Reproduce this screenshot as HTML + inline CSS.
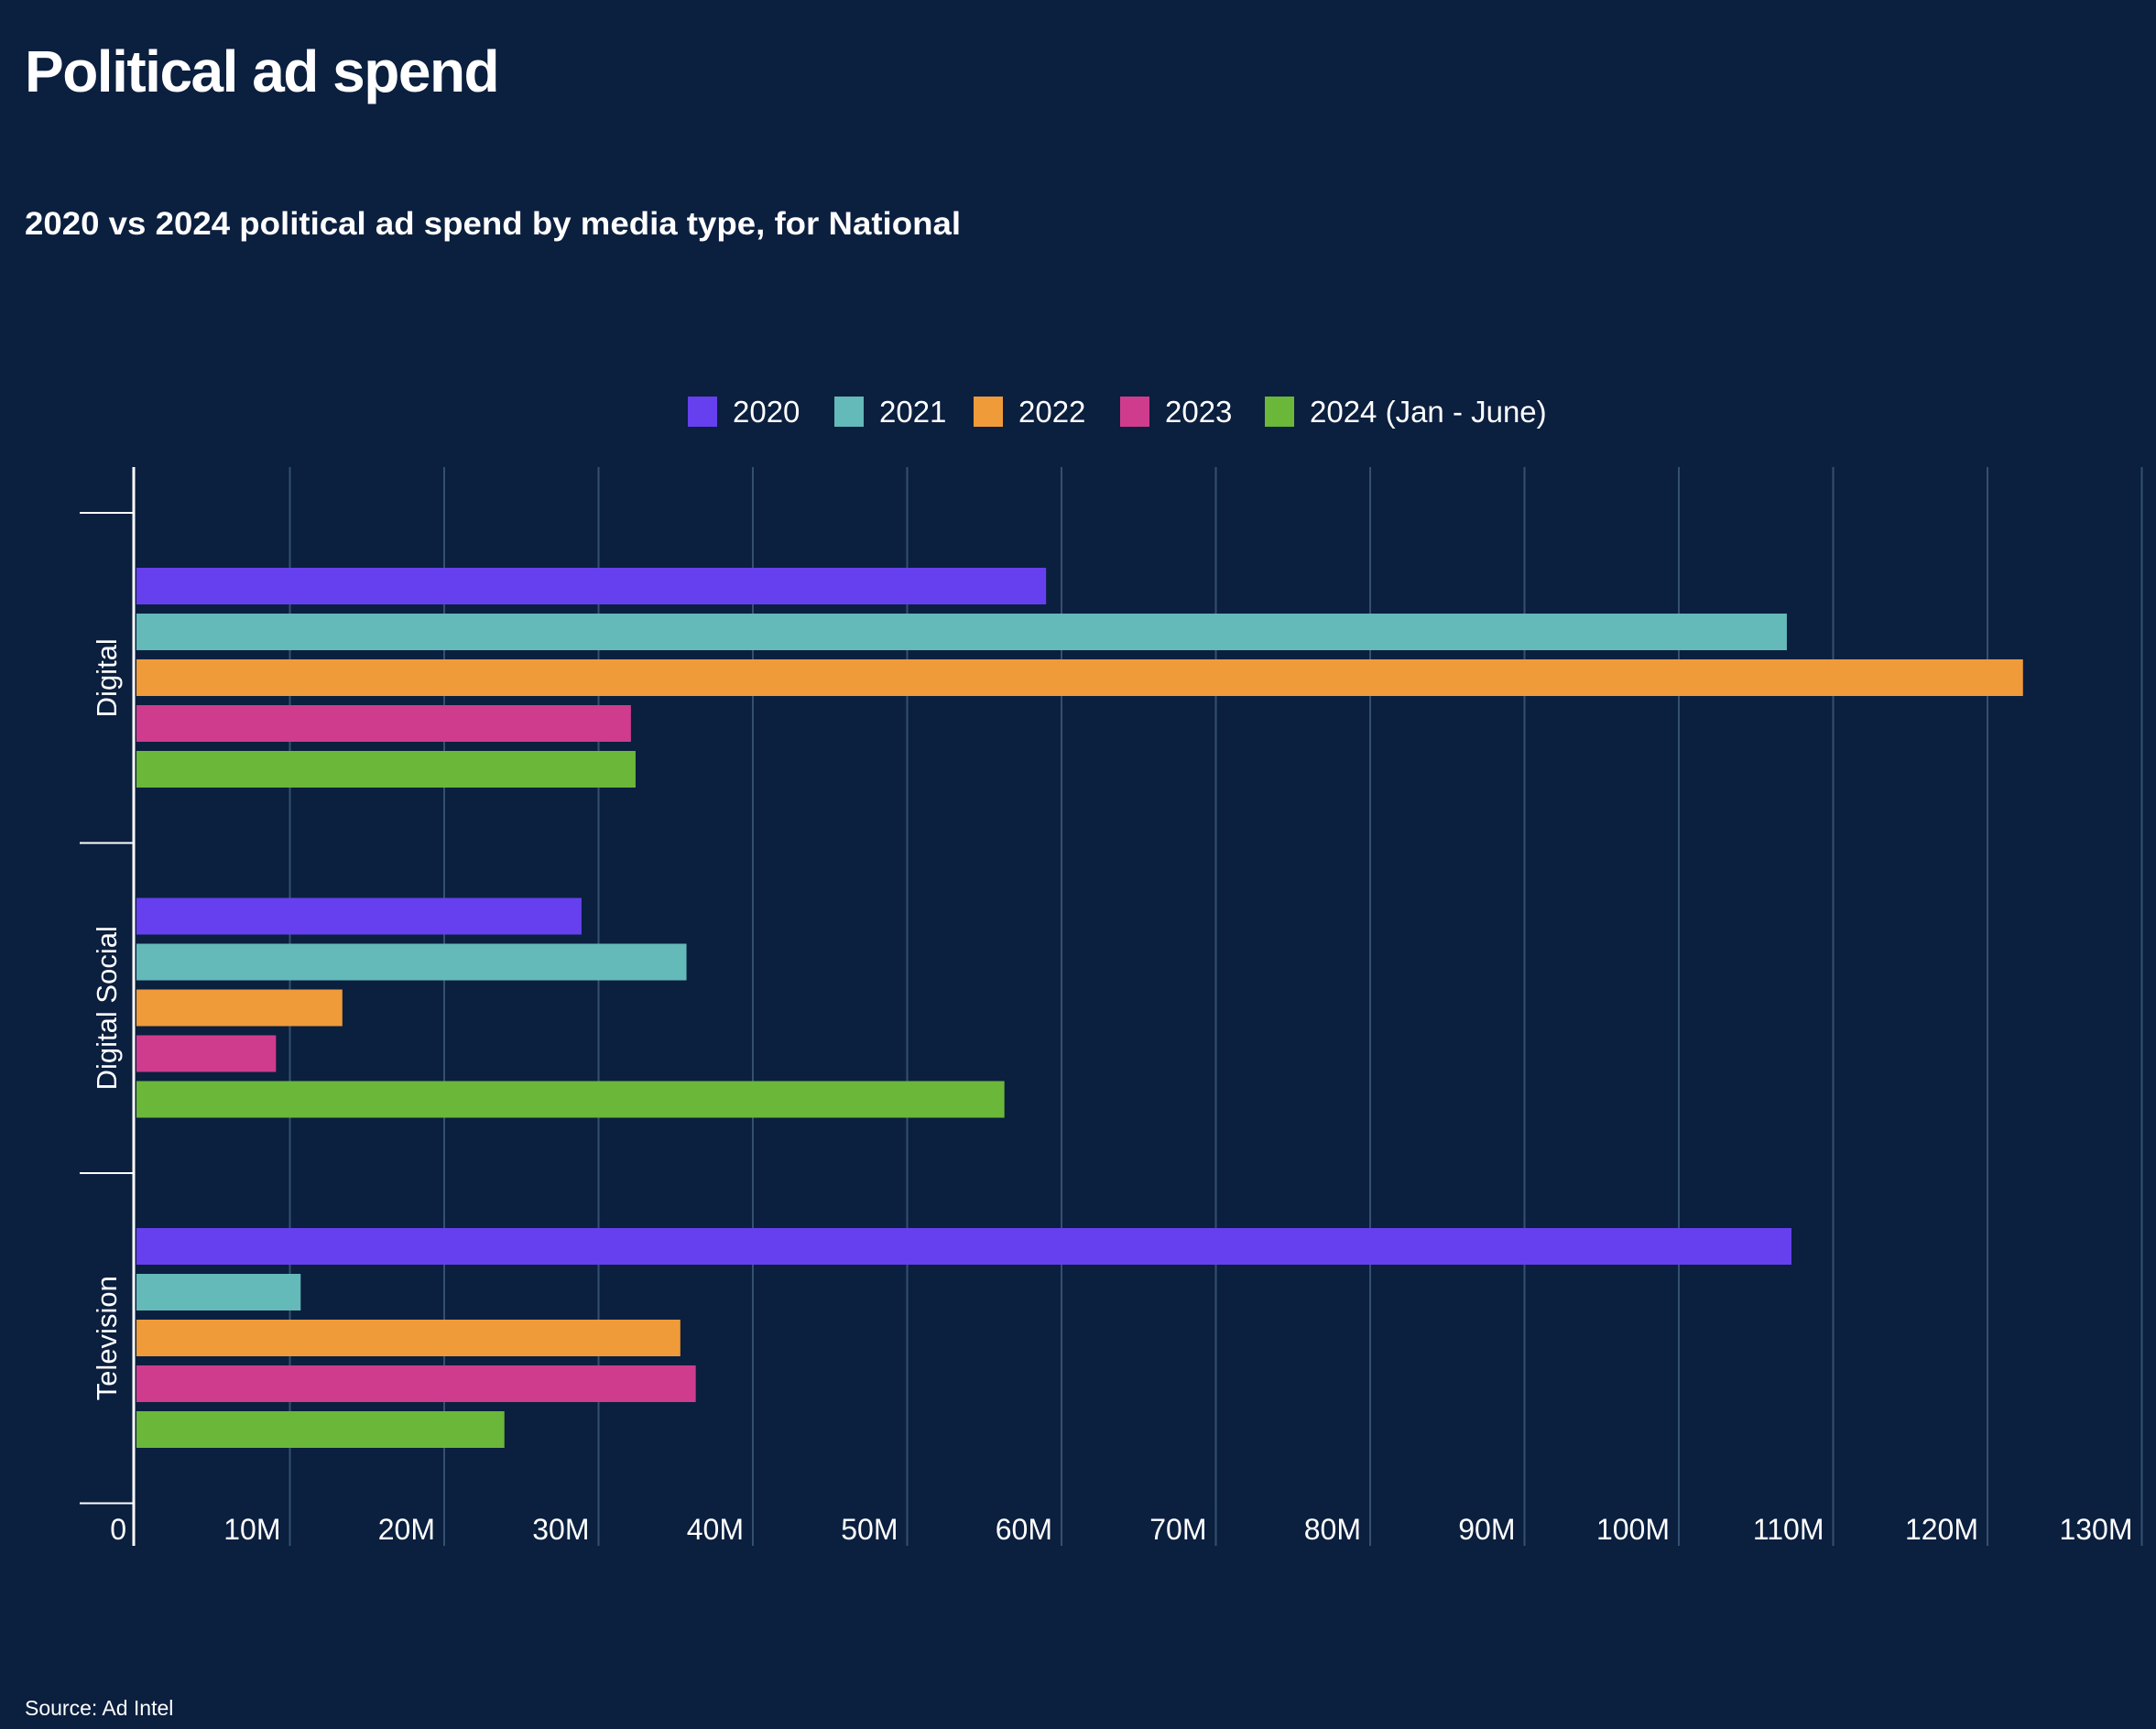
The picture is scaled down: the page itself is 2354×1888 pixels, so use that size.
<!DOCTYPE html>
<html><head><meta charset="utf-8"><style>
html,body{margin:0;padding:0;background:#0b1f3f;}
svg{display:block;font-family:"Liberation Sans",sans-serif;}
</style></head><body>
<svg id="chart" width="2354" height="1888" viewBox="0 0 2354 1888" xmlns="http://www.w3.org/2000/svg">
<rect width="2354" height="1888" fill="#0b1f3f"/>
<text x="27" y="100" fill="#fff" font-size="64" font-weight="bold" letter-spacing="-1.5">Political ad spend</text>
<text x="27" y="256" fill="#fff" font-size="35" font-weight="bold" textLength="1022" lengthAdjust="spacingAndGlyphs">2020 vs 2024 political ad spend by media type, for National</text>
<text x="27" y="1873" fill="#fff" font-size="23">Source: Ad Intel</text>
<g id="grid"></g><g id="bars"></g><g id="axes"></g><g id="legend"></g>
</svg>
<script>
const categories = ["Digital", "Digital Social", "Television"];
const seriesNames = ["2020", "2021", "2022", "2023", "2024 (Jan - June)"];
const seriesColors = ["#6640ee", "#64b9b9", "#ef9b3a", "#cf3c8d", "#6bb73a"];
const values2020 = [59.0, 28.9, 107.3];
const values2021 = [107.0, 35.7, 10.7];
const values2022 = [122.3, 13.4, 35.3];
const values2023 = [32.1, 9.1, 36.3];
const values2024 = [32.4, 56.3, 23.9];
const tickValues = [0,10,20,30,40,50,60,70,80,90,100,110,120,130];
const tickLabels = ["0","10M","20M","30M","40M","50M","60M","70M","80M","90M","100M","110M","120M","130M"];

const NS = "http://www.w3.org/2000/svg";
const x0 = 148, pxPerM = 16.85, plotTop = 510, plotBottom = 1688;
const bandTop = 560, bandH = 360.5;
function xScale(v){ return x0 + v * pxPerM; }
function bandY(i){ return bandTop + i * bandH; }
function mk(tag, attrs, parent){ const e = document.createElementNS(NS, tag); for (const k in attrs) e.setAttribute(k, attrs[k]); parent.appendChild(e); return e; }
const grid = document.getElementById('grid'), bars = document.getElementById('bars'), axes = document.getElementById('axes'), legend = document.getElementById('legend');

tickValues.forEach((t, i) => {
  const x = xScale(t);
  if (i > 0) {
    const l = mk('line', {x1:x, x2:x, y1:plotTop, y2:plotBottom, stroke:'#34506f', 'stroke-width':2}, grid);
    
    
  }
  const tx = mk('text', {x: x - 10, y:1681, fill:'#fff', 'font-size':32, 'text-anchor':'end'}, axes);
  tx.textContent = tickLabels[i];
  
  
});

const allSeries = [values2020, values2021, values2022, values2023, values2024];
categories.forEach((c, ci) => {
  allSeries.forEach((vals, si) => {
    const y = bandY(ci) + 60 + si * 50;
    const r = mk('rect', {x:x0 + 1, y:y, width:xScale(vals[ci]) - x0 - 1, height:40, fill:seriesColors[si]}, bars);
    
    
  });
  const cy = bandY(ci) + bandH / 2;
  const lab = mk('text', {x:0, y:0, fill:'#fff', 'font-size':31, 'text-anchor':'middle', transform:'translate(127,' + cy + ') rotate(-90)'}, axes);
  lab.textContent = c;
  
  
});
for (let i = 0; i <= categories.length; i++) {
  const y = bandY(i);
  const tk = mk('line', {x1:87, x2:146, y1:y, y2:y, stroke:'#fff', 'stroke-width':2}, axes);
  
  
}
const ax = mk('line', {x1:146, x2:146, y1:plotTop, y2:plotBottom, stroke:'#fff', 'stroke-width':3}, axes);



const legX = [751, 911, 1063, 1223, 1381];
seriesNames.forEach((n, i) => {
  const g = mk('g', {}, legend);
  
  
  mk('rect', {x:legX[i], y:433, width:32, height:33, fill:seriesColors[i]}, g);
  const t = mk('text', {x:legX[i] + 49, y:461, fill:'#fff', 'font-size':33}, g);
  t.textContent = n;
});
</script>
</body></html>
